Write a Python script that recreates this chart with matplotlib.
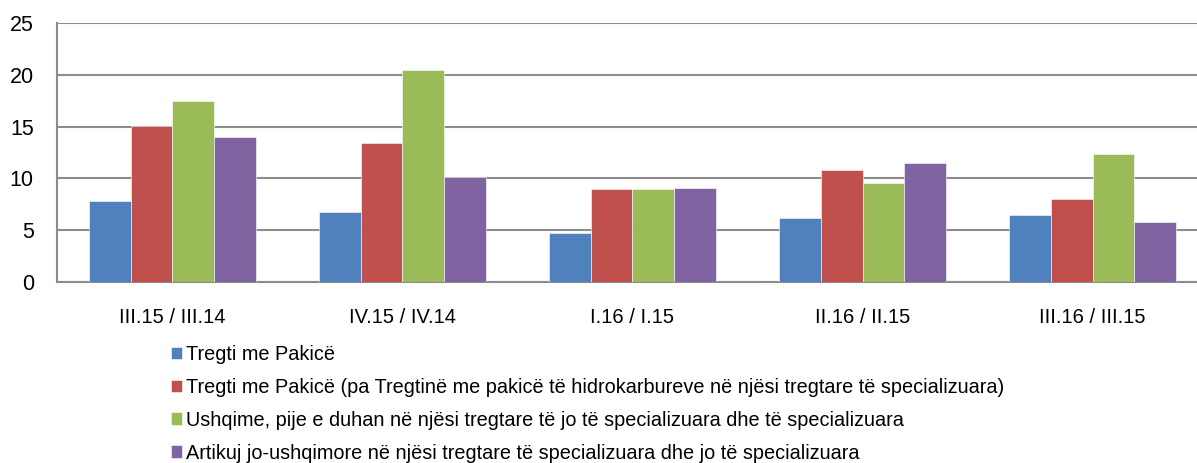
import numpy as np
import matplotlib
matplotlib.use("Agg")
import matplotlib.pyplot as plt

plt.rcParams['font.family'] = ['Liberation Sans', 'DejaVu Sans']

categories = ["III.15 / III.14", "IV.15 / IV.14", "I.16 / I.15", "II.16 / II.15", "III.16 / III.15"]
series_names = [
    "Tregti me Pakicë",
    "Tregti me Pakicë (pa Tregtinë me pakicë të hidrokarbureve në njësi tregtare të specializuara)",
    "Ushqime, pije e duhan në njësi tregtare të jo të specializuara dhe të specializuara",
    "Artikuj jo-ushqimore në njësi tregtare të specializuara dhe jo të specializuara",
]
retail = [7.85, 6.8, 4.7, 6.2, 6.5]
retail_ex_fuel = [15.1, 13.45, 9.0, 10.8, 8.0]
food = [17.45, 20.5, 8.95, 9.6, 12.4]
non_food = [14.0, 10.15, 9.05, 11.5, 5.75]
colors = ["#4F81BD", "#C0504D", "#9BBB59", "#8064A2"]

fig = plt.figure(figsize=(11.97, 4.63), dpi=100)
ax = fig.add_axes([0.048, 0.391, 0.9608, 0.559])

x = np.arange(len(categories))
w = 0.727 / 4
for i, vals in enumerate([retail, retail_ex_fuel, food, non_food]):
    ax.bar(x + (i - 1.5) * w, vals, w, color=colors[i], label=series_names[i],
           edgecolor="white", linewidth=0.4, zorder=3)

ax.set_xlim(-0.5, len(categories) - 0.5)
ax.set_ylim(0, 25)
ax.set_yticks(range(0, 26, 5))
ax.set_xticks(x)
ax.set_xticklabels(categories)
ax.tick_params(axis="both", length=0)
ax.tick_params(axis="x", pad=19, labelsize=14.5)
ax.tick_params(axis="y", pad=17, labelsize=15.5)
ax.grid(axis="y", color="#8C8C8C", linewidth=1.5, zorder=0)
for s in ["top", "right"]:
    ax.spines[s].set_visible(False)
for s in ["left", "bottom"]:
    ax.spines[s].set_color("#8C8C8C")
    ax.spines[s].set_linewidth(1.5)

fig.legend(loc="upper left", bbox_to_anchor=(0.1425, 0.255), frameon=False,
           fontsize=14.3, handlelength=0.6, handleheight=0.6, handletextpad=0.2,
           labelspacing=0.7, borderaxespad=0, borderpad=0)

fig.savefig("out.png", dpi=100)
